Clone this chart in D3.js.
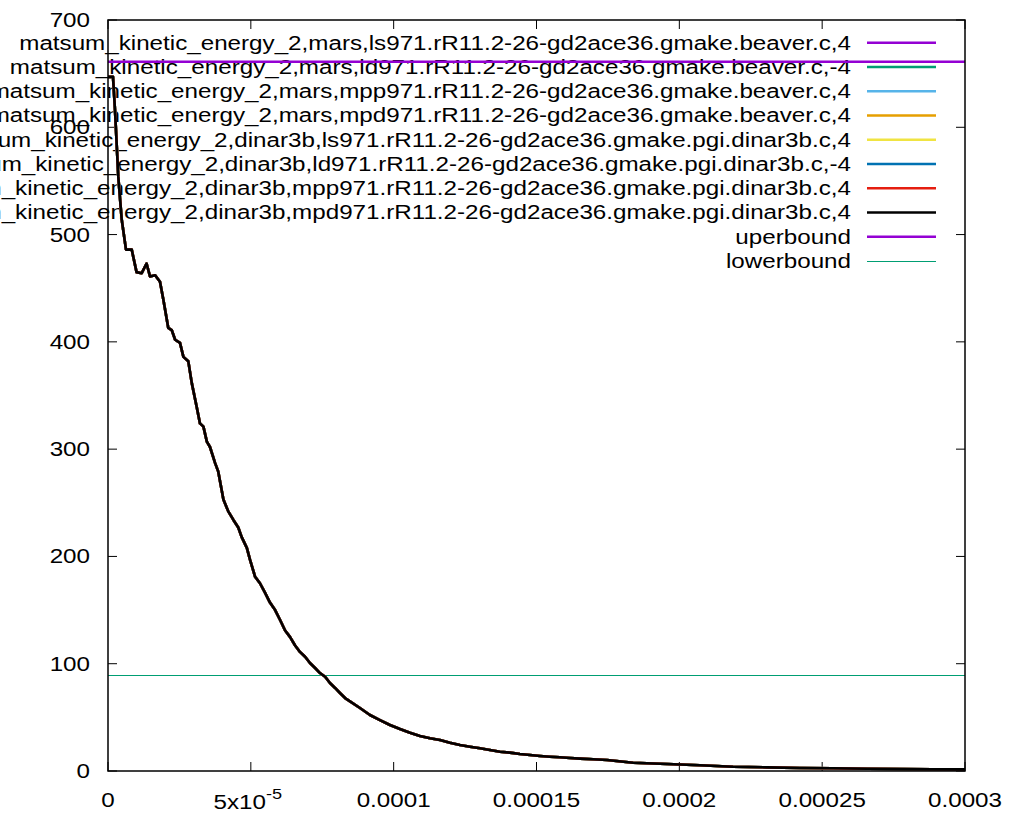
<!DOCTYPE html>
<html>
<head>
<meta charset="utf-8">
<script src="https://cdn.jsdelivr.net/npm/d3@7"></script>
<style>
  html, body { margin: 0; padding: 0; background: #fff; }
  svg { display: block; }
  text { font-family: "Liberation Sans", Arial, Helvetica, sans-serif; }
</style>
</head>
<body>
<svg id="chart" width="1011" height="814"></svg>
<script>
// ---------------- data ----------------
const timeValues = [
  0, 1.75e-6, 2.45e-6, 3.6e-6, 4.8e-6, 6.3e-6, 8.3e-6, 10.0e-6, 11.8e-6, 13.5e-6,
  14.7e-6, 16.5e-6, 18.2e-6, 19.4e-6, 21.1e-6, 22.3e-6, 23.5e-6, 25.2e-6, 26.4e-6, 28.1e-6,
  29.3e-6, 31.0e-6, 32.2e-6, 33.4e-6, 34.6e-6, 35.7e-6, 37.5e-6, 38.6e-6, 40.4e-6, 42.1e-6,
  43.9e-6, 45.6e-6, 46.8e-6, 48.6e-6, 49.7e-6, 51.5e-6, 53.2e-6, 55.0e-6, 56.7e-6, 58.5e-6,
  60.2e-6, 62.0e-6, 63.7e-6, 65.5e-6, 67.2e-6, 69.0e-6, 70.7e-6, 72.5e-6, 74.2e-6, 76.0e-6,
  77.7e-6, 79.5e-6, 81.2e-6, 83.0e-6, 88.2e-6, 91.7e-6, 95.2e-6, 98.7e-6, 102.2e-6, 105.7e-6,
  109.2e-6, 112.7e-6, 116.2e-6, 119.7e-6, 123.2e-6, 126.7e-6, 130.2e-6, 133.7e-6, 137.2e-6, 140.7e-6,
  144.2e-6, 147.7e-6, 151.2e-6, 154.7e-6, 158.2e-6, 161.7e-6, 165.2e-6, 169.8e-6, 174.7e-6, 183.8e-6,
  195.7e-6, 207.2e-6, 218.8e-6, 230.7e-6, 242.2e-6, 253.8e-6, 265.7e-6, 277.2e-6, 288.8e-6, 300e-6
];
const kineticValues = [
  647, 647, 616, 554, 514, 486, 486, 465, 464, 473,
  461, 462, 456, 439, 413, 411, 402, 399, 386, 382,
  362, 340, 324, 321, 307, 302, 287, 279, 253, 242,
  234, 227, 218, 208, 197, 181, 175, 166, 157, 150,
  141, 131, 125, 117, 111, 106.5, 100.7, 96, 91.3, 87.9,
  82, 77.4, 72.7, 68, 58.7, 52.2, 47.5, 42.9, 39.1, 35.7,
  32.6, 30.5, 28.9, 26.4, 24.2, 22.6, 21.2, 19.6, 18.0, 17.1,
  15.8, 14.9, 14.0, 13.3, 12.8, 12.1, 11.5, 10.9, 10.3, 7.7,
  6.5, 5.3, 4.0, 3.4, 2.8, 2.5, 2.1, 1.9, 1.6, 1.5
];
const seriesNames = [
  "matsum_kinetic_energy_2,mars,ls971.rR11.2-26-gd2ace36.gmake.beaver.c,4",
  "matsum_kinetic_energy_2,mars,ld971.rR11.2-26-gd2ace36.gmake.beaver.c,-4",
  "matsum_kinetic_energy_2,mars,mpp971.rR11.2-26-gd2ace36.gmake.beaver.c,4",
  "matsum_kinetic_energy_2,mars,mpd971.rR11.2-26-gd2ace36.gmake.beaver.c,4",
  "matsum_kinetic_energy_2,dinar3b,ls971.rR11.2-26-gd2ace36.gmake.pgi.dinar3b.c,4",
  "matsum_kinetic_energy_2,dinar3b,ld971.rR11.2-26-gd2ace36.gmake.pgi.dinar3b.c,-4",
  "matsum_kinetic_energy_2,dinar3b,mpp971.rR11.2-26-gd2ace36.gmake.pgi.dinar3b.c,4",
  "matsum_kinetic_energy_2,dinar3b,mpd971.rR11.2-26-gd2ace36.gmake.pgi.dinar3b.c,4"
];
const seriesColors = ["#9400d3", "#009e73", "#56b4e9", "#e69f00", "#f0e442", "#0072b2", "#e51e10", "#000000"];
const boundNames = ["uperbound", "lowerbound"];
const boundValues = [661, 89.5];
const boundColors = ["#9400d3", "#009e73"];
const xTicks = [0, 0.00005, 0.0001, 0.00015, 0.0002, 0.00025, 0.0003];
const xTickLabels = ["0", "5x10^-5", "0.0001", "0.00015", "0.0002", "0.00025", "0.0003"];
const yTicks = [0, 100, 200, 300, 400, 500, 600, 700];

// ---------------- layout ----------------
const L = 108, R = 965, T = 20, B = 771;
const SX = 1.21; // horizontal text stretch
const FS = 20;
const svg = d3.select("#chart");
const x = d3.scaleLinear().domain([0, 0.0003]).range([L, R]);
const y = d3.scaleLinear().domain([0, 700]).range([B, T]);

function addText(g, tx, ty, str, anchor) {
  const t = g.append("text")
    .attr("transform", `translate(${tx},${ty}) scale(${SX},1)`)
    .attr("font-size", FS)
    .attr("fill", "#000")
    .attr("text-anchor", anchor);
  return t.text(str);
}

// legend text (drawn first, lines go over it)
const legendG = svg.append("g");
const allNames = seriesNames.concat(boundNames);
const allColors = seriesColors.concat(boundColors);
const legendY = d3.scalePoint().domain(d3.range(allNames.length)).range([42.7, 261]);
allNames.forEach((n, i) => {
  addText(legendG, 851, legendY(i) + 7, n, "end");
  const thin = i === allNames.length - 1;
  legendG.append("line")
    .attr("x1", 867).attr("x2", 936)
    .attr("y1", thin ? Math.round(legendY(i)) + 0.5 : legendY(i))
    .attr("y2", thin ? Math.round(legendY(i)) + 0.5 : legendY(i))
    .attr("stroke", allColors[i])
    .attr("shape-rendering", thin ? "crispEdges" : null)
    .attr("stroke-width", thin ? 1 : 2.5);
});

// ticks
const tickG = svg.append("g").attr("stroke", "#000").attr("stroke-width", 1);
yTicks.forEach(v => {
  tickG.append("line").attr("x1", L).attr("x2", L + 9).attr("y1", y(v)).attr("y2", y(v));
  tickG.append("line").attr("x1", R).attr("x2", R - 9).attr("y1", y(v)).attr("y2", y(v));
});
xTicks.forEach(v => {
  tickG.append("line").attr("x1", x(v)).attr("x2", x(v)).attr("y1", B).attr("y2", B - 9);
  tickG.append("line").attr("x1", x(v)).attr("x2", x(v)).attr("y1", T).attr("y2", T + 9);
});

// tick labels
const labG = svg.append("g");
yTicks.forEach(v => addText(labG, 90, y(v) + 7, String(v), "end"));
xTicks.forEach((v, i) => {
  const s = xTickLabels[i];
  if (s.indexOf("^") >= 0) {
    const [base, exp] = s.split("^");
    const t = labG.append("text")
      .attr("transform", `translate(${x(v) - 3},${B + 38}) scale(${SX},1)`)
      .attr("font-size", FS).attr("text-anchor", "middle");
    t.append("tspan").text(base);
    t.append("tspan").attr("font-size", 15).attr("dy", -10).text(exp);
  } else {
    addText(labG, x(v), B + 36, s, "middle");
  }
});

// lower bound under curves
const lineGen = d3.line().x((d, i) => x(timeValues[i])).y(d => y(d));
const lbY = Math.round(y(boundValues[1])) + 0.5;
svg.append("line")
  .attr("x1", x(0)).attr("x2", x(0.0003))
  .attr("y1", lbY).attr("y2", lbY)
  .attr("shape-rendering", "crispEdges")
  .attr("stroke", boundColors[1]).attr("stroke-width", 1);

// series
seriesNames.forEach((n, i) => {
  svg.append("path")
    .datum(kineticValues)
    .attr("d", lineGen)
    .attr("fill", "none")
    .attr("stroke", seriesColors[i])
    .attr("stroke-width", 2.6)
    .attr("stroke-linejoin", "round");
});

// upper bound
svg.append("line")
  .attr("x1", x(0)).attr("x2", x(0.0003))
  .attr("y1", y(boundValues[0])).attr("y2", y(boundValues[0]))
  .attr("stroke", boundColors[0]).attr("stroke-width", 2.5);

// frame
svg.append("rect")
  .attr("x", L).attr("y", T).attr("width", R - L).attr("height", B - T)
  .attr("fill", "none").attr("stroke", "#000").attr("stroke-width", 1.5);
</script>
</body>
</html>
